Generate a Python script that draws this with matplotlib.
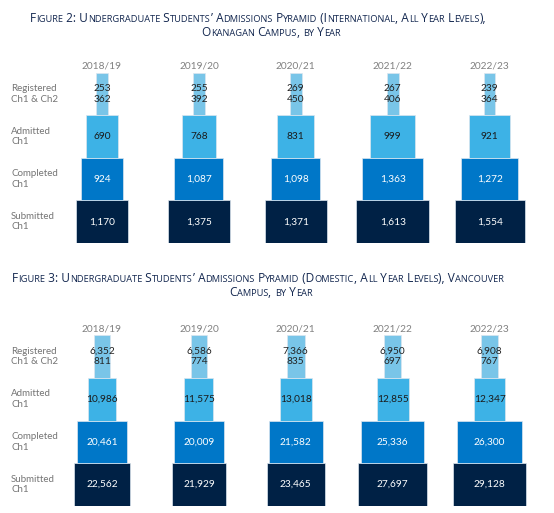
import matplotlib
matplotlib.use("Agg")
import matplotlib.pyplot as plt
import numpy as np

plt.rcParams['font.family'] = ['Lato', 'DejaVu Sans']

years = ['2018/19', '2019/20', '2020/21', '2021/22', '2022/23']
tiers = ['Submitted\nCh1', 'Completed\nCh1', 'Admitted\nCh1', 'Registered\nCh1 & Ch2']

# figure 2: okanagan, international
okan_registered = [253, 255, 269, 267, 239]
okan_reg_ch2 = [362, 392, 450, 406, 364]
okan_admitted = [690, 768, 831, 999, 921]
okan_completed = [924, 1087, 1098, 1363, 1272]
okan_submitted = [1170, 1375, 1371, 1613, 1554]

# figure 3: vancouver, domestic
van_registered = [6352, 6586, 7366, 6950, 6908]
van_reg_ch2 = [811, 774, 835, 697, 767]
van_admitted = [10986, 11575, 13018, 12855, 12347]
van_completed = [20461, 20009, 21582, 25336, 26300]
van_submitted = [22562, 21929, 23465, 27697, 29128]

title2 = ["Figure 2: Undergraduate Students\u2019 Admissions Pyramid (International, All Year Levels),",
          "Okanagan Campus, by Year"]
title3 = ["Figure 3: Undergraduate Students\u2019 Admissions Pyramid (Domestic, All Year Levels), Vancouver",
          "Campus, by Year"]

colors = ['#002145', '#0077c8', '#3db2e6', '#79c5e8']
txt_colors = ['white', 'white', '#1a1a1a', '#222222']

W, H = 554, 513
fig = plt.figure(figsize=(W / 100, H / 100), dpi=100)

title_color = '#142850'
big, small = 7.4, 5.75


def small_caps(line, ypx):
    # lowercase letters are drawn as smaller capitals
    runs = []
    for ch in line:
        kind = 'small' if ch.islower() else 'big'
        if runs and runs[-1][0] == kind:
            runs[-1][1] += ch
        else:
            runs.append([kind, ch])
    arts = []
    for kind, s in runs:
        t = fig.text(0, 1 - ypx / H, s.upper(), fontsize=big if kind == 'big' else small,
                     color=title_color, va='baseline', ha='left', family='Open Sans')
        arts.append(t)
    return arts


title_lines = []
for line, y, c in [(title2[0], 21.5, 258), (title2[1], 35.5, 271),
                   (title3[0], 282.5, 258), (title3[1], 296, 271)]:
    title_lines.append((small_caps(line, y), c))

fig.canvas.draw()
r = fig.canvas.get_renderer()
# fit the first title line to the width it has in the original
w0 = sum(a.get_window_extent(r).width for a in title_lines[0][0])
k = 455 / w0
for arts, c in title_lines:
    for a in arts:
        a.set_fontsize(a.get_fontsize() * k)
fig.canvas.draw()
for arts, c in title_lines:
    widths = [a.get_window_extent(r).width for a in arts]
    x = c - sum(widths) / 2
    for a, w in zip(arts, widths):
        a.set_x(x / W)
        x += w

spacing = 96.9
xc0 = 102
wmax = 72.5 / spacing


def panel(top_px, bot_px, reg, reg2, adm, comp, sub):
    ax = fig.add_axes([0, 1 - bot_px / H, 1, (bot_px - top_px) / H])
    ax.set_xlim(-xc0 / spacing, (W - xc0) / spacing)
    ax.set_ylim(0, 4)
    ax.axis('off')
    x = np.arange(len(years))
    scale = wmax / max(sub)
    series = [sub, comp, adm, reg]
    for i, vals in enumerate(series):
        ax.bar(x, 1, bottom=i, width=np.array(vals) * scale, color=colors[i],
               edgecolor='#dbe6ef', linewidth=0.5, align='center')
        for j, v in enumerate(vals):
            if i == 3:
                label = f"{v:,}\n{reg2[j]:,}"
            else:
                label = f"{v:,}"
            ax.text(x[j], i + 0.5, label, ha='center', va='center', fontsize=7.3,
                    color=txt_colors[i], linespacing=1.15)
        ax.text(11 / W, (i + 0.5) / 4, tiers[i], transform=ax.transAxes, ha='left',
                va='center', fontsize=7, color='#747474', linespacing=1.2)
    for j, yr in enumerate(years):
        ax.text(x[j], 4.04, yr, ha='center', va='bottom', fontsize=7.3, color='#808080')
    return ax


panel(72.7, 243, okan_registered, okan_reg_ch2, okan_admitted, okan_completed, okan_submitted)
panel(335, 506, van_registered, van_reg_ch2, van_admitted, van_completed, van_submitted)

fig.savefig('out.png', dpi=100)
